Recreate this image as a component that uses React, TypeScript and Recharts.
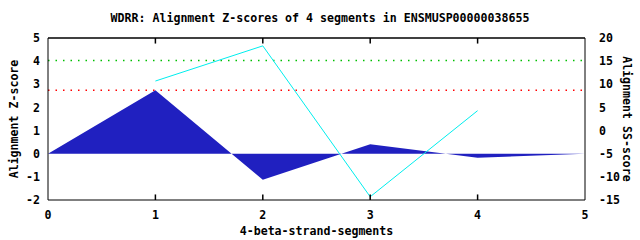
import { ComposedChart, Area, Line, XAxis, YAxis, ReferenceLine } from 'recharts';

const positions = [0, 1, 2, 3, 4, 5];
const zScores = [0, 2.74, -1.13, 0.41, -0.17, 0];
const ssScores: (number | null)[] = [null, 10.7, 18.3, -14.3, 4.3, null];
const leftTicks = [-2, -1, 0, 1, 2, 3, 4, 5];
const rightTicks = [-15, -10, -5, 0, 5, 10, 15, 20];
const greenCutoff = 4.03;
const redCutoff = 2.74;

const data = positions.map((x, i) => ({ x, z: zScores[i], ss: ssScores[i] }));

const font = '"DejaVu Sans Mono", monospace';
const yMin = -2;
const yMax = 5;
const tickLen = 0.24; // inward x tick length, in Z-score units

const App = () => {
  return (
    <div style={{ position: 'absolute', left: 0, top: 0, width: 640, height: 240, background: '#fff' }}>
      <div
        style={{
          position: 'absolute',
          top: 11,
          left: 0,
          width: 640,
          textAlign: 'center',
          fontFamily: font,
          fontWeight: 'bold',
          fontSize: 11.6,
          color: '#000',
        }}
      >
        WDRR: Alignment Z-scores of 4 segments in ENSMUSP00000038655
      </div>
      <ComposedChart width={640} height={240} data={data} margin={{ top: 38, right: 0, left: 0, bottom: 0 }}>
        <XAxis
          dataKey="x"
          type="number"
          domain={[0, 5]}
          ticks={positions}
          height={40}
          tickLine={false}
          tickMargin={5}
          stroke="#000"
          tick={{ fill: '#000', fontFamily: font, fontWeight: 'bold', fontSize: 11.6 }}
          label={{ value: '4-beta-strand-segments', position: 'insideBottom', offset: 5, fill: '#000', fontFamily: font, fontWeight: 'bold', fontSize: 11.6 }}
        />
        <YAxis
          yAxisId="left"
          domain={[yMin, yMax]}
          ticks={leftTicks}
          width={48}
          tickLine={false}
          stroke="#000"
          tickMargin={2}
          tick={{ fill: '#000', fontFamily: font, fontWeight: 'bold', fontSize: 11.6 }}
          label={{ value: 'Alignment Z-score', angle: -90, position: 'insideLeft', offset: 14, style: { textAnchor: 'middle' }, fill: '#000', fontFamily: font, fontWeight: 'bold', fontSize: 11.6 }}
        />
        <YAxis
          yAxisId="right"
          orientation="right"
          domain={[-15, 20]}
          ticks={rightTicks}
          width={55}
          tickLine={false}
          stroke="#000"
          tickMargin={8}
          tick={{ fill: '#000', fontFamily: font, fontWeight: 'bold', fontSize: 11.6 }}
          label={{ value: 'Alignment SS-score', angle: 90, position: 'insideRight', offset: 13, style: { textAnchor: 'middle' }, fill: '#000', fontFamily: font, fontWeight: 'bold', fontSize: 11.6 }}
        />
        <Area
          yAxisId="left"
          type="linear"
          dataKey="z"
          baseValue={0}
          fill="#2020c0"
          fillOpacity={1}
          stroke="none"
          isAnimationActive={false}
          dot={false}
          activeDot={false}
        />
        <ReferenceLine yAxisId="left" y={greenCutoff} stroke="#00c000" strokeWidth={1.5} strokeDasharray="1.5 6" />
        <ReferenceLine yAxisId="left" y={redCutoff} stroke="#ff0000" strokeWidth={1.5} strokeDasharray="1.5 6" />
        <Line
          yAxisId="right"
          type="linear"
          dataKey="ss"
          stroke="#00eeee"
          strokeWidth={1}
          dot={false}
          activeDot={false}
          isAnimationActive={false}
        />
        {/* top border and inward x ticks on both edges */}
        <ReferenceLine yAxisId="left" y={yMax} stroke="#000" strokeWidth={1.5} ifOverflow="visible" />
        {positions.slice(1, -1).map((p) => (
          <ReferenceLine
            key={`b${p}`}
            yAxisId="left"
            ifOverflow="visible"
            segment={[{ x: p, y: yMin }, { x: p, y: yMin + tickLen }]}
            stroke="#000"
            strokeWidth={1.5}
          />
        ))}
        {positions.slice(1, -1).map((p) => (
          <ReferenceLine
            key={`t${p}`}
            yAxisId="left"
            ifOverflow="visible"
            segment={[{ x: p, y: yMax }, { x: p, y: yMax - tickLen }]}
            stroke="#000"
            strokeWidth={1.5}
          />
        ))}
      </ComposedChart>
    </div>
  );
};

export default App;
